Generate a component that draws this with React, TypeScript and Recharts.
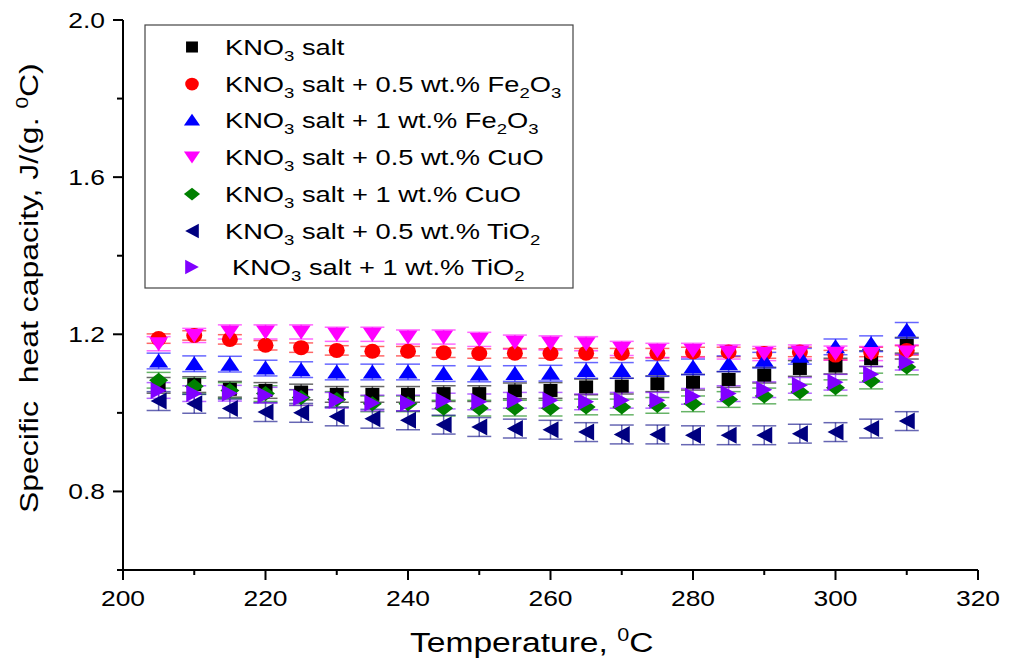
import React from 'react';
import { ScatterChart, Scatter, XAxis, YAxis, ErrorBar } from 'recharts';

// temperatures (°C) where Cp was measured
const temperatures = [205, 210, 215, 220, 225, 230, 235, 240, 245, 250, 255, 260, 265, 270, 275, 280, 285, 290, 295, 300, 305, 310];

// specific heat capacity, J/(g.°C)
const kno3Salt = [1.070, 1.072, 1.060, 1.057, 1.053, 1.047, 1.047, 1.047, 1.049, 1.049, 1.056, 1.057, 1.066, 1.068, 1.074, 1.078, 1.085, 1.096, 1.113, 1.119, 1.138, 1.172];
const fe2o3Half = [1.189, 1.197, 1.187, 1.172, 1.166, 1.159, 1.157, 1.157, 1.153, 1.151, 1.152, 1.151, 1.152, 1.152, 1.152, 1.155, 1.155, 1.151, 1.155, 1.147, 1.155, 1.159];
const fe2o3One = [1.132, 1.125, 1.124, 1.114, 1.110, 1.104, 1.104, 1.104, 1.100, 1.099, 1.100, 1.101, 1.108, 1.108, 1.113, 1.117, 1.125, 1.134, 1.144, 1.168, 1.176, 1.210];
const cuoHalf = [1.176, 1.197, 1.206, 1.206, 1.206, 1.200, 1.200, 1.193, 1.193, 1.187, 1.180, 1.178, 1.176, 1.164, 1.159, 1.159, 1.155, 1.151, 1.155, 1.152, 1.151, 1.155];
const cuoOne = [1.083, 1.068, 1.057, 1.049, 1.039, 1.034, 1.023, 1.023, 1.012, 1.012, 1.012, 1.012, 1.015, 1.015, 1.019, 1.023, 1.034, 1.043, 1.053, 1.064, 1.081, 1.117];
const tio2Half = [1.030, 1.023, 1.011, 1.002, 1.000, 0.991, 0.985, 0.981, 0.970, 0.964, 0.960, 0.957, 0.951, 0.945, 0.945, 0.943, 0.943, 0.943, 0.947, 0.951, 0.960, 0.979];
const tio2One = [1.057, 1.049, 1.050, 1.045, 1.039, 1.032, 1.025, 1.025, 1.030, 1.028, 1.032, 1.032, 1.028, 1.032, 1.032, 1.042, 1.049, 1.059, 1.070, 1.078, 1.098, 1.129];

// error bar half-widths per series
const errorSizes = [0.02, 0.012, 0.02, 0.018, 0.02, 0.024, 0.02];

const seriesNames = [
  'KNO3 salt',
  'KNO3 salt + 0.5 wt.% Fe2O3',
  'KNO3 salt + 1 wt.% Fe2O3',
  'KNO3 salt + 0.5 wt.% CuO',
  'KNO3 salt + 1 wt.% CuO',
  'KNO3 salt + 0.5 wt.% TiO2',
  'KNO3 salt + 1 wt.% TiO2',
];
const seriesValues = [kno3Salt, fe2o3Half, fe2o3One, cuoHalf, cuoOne, tio2Half, tio2One];

const xTicks = [200, 210, 220, 230, 240, 250, 260, 270, 280, 290, 300, 310, 320];
const xLabels = [200, 220, 240, 260, 280, 300, 320];
const yTicks = [0.6, 0.8, 1.0, 1.2, 1.4, 1.6, 1.8, 2.0];
const yLabels = [0.8, 1.2, 1.6, 2.0];

type Kind = 'square' | 'circle' | 'up' | 'down' | 'diamond' | 'left' | 'right';
const kinds: Kind[] = ['square', 'circle', 'up', 'down', 'diamond', 'left', 'right'];
const colors = ['#000000', '#ff0000', '#0000ff', '#ff00ff', '#008000', '#000080', '#8000ff'];

const FONT = '"Liberation Sans", Arial, sans-serif';
const SX = 1.2; // the figure's lettering is wide

function Marker({ cx, cy, kind, color, k = 1 }: { cx: number; cy: number; kind: Kind; color: string; k?: number }) {
  const p = (pts: number[][]) => pts.map(([a, b]) => `${cx + a * k},${cy + b * k}`).join(' ');
  switch (kind) {
    case 'square':
      return <rect x={cx - 7 * k} y={cy - 6.5 * k} width={14 * k} height={13 * k} fill={color} />;
    case 'circle':
      return <ellipse cx={cx} cy={cy} rx={8 * k} ry={7.5 * k} fill={color} />;
    case 'up':
      return <polygon points={p([[0, -7.5], [9.5, 6.5], [-9.5, 6.5]])} fill={color} />;
    case 'down':
      return <polygon points={p([[-9.5, -6.5], [9.5, -6.5], [0, 7.5]])} fill={color} />;
    case 'diamond':
      return <polygon points={p([[0, -7.5], [9.5, 0], [0, 7.5], [-9.5, 0]])} fill={color} />;
    case 'left':
      return <polygon points={p([[-8, 0], [8, -8.5], [8, 8.5]])} fill={color} />;
    default:
      return <polygon points={p([[8, 0], [-8, -8.5], [-8, 8.5]])} fill={color} />;
  }
}

// subscript any digit that directly follows a letter (KNO3, Fe2O3, TiO2)
function Formula({ text, size }: { text: string; size: number }) {
  const parts = text.split(/(?<=[A-Za-z])(\d)/);
  const out: React.ReactNode[] = [];
  let low = false;
  parts.forEach((s, i) => {
    if (!s) return;
    const sub = i % 2 === 1;
    const dy = sub && !low ? 6 : !sub && low ? -6 : 0;
    low = sub;
    out.push(
      <tspan key={i} dy={dy} fontSize={sub ? size * 0.68 : size}>
        {s}
      </tspan>
    );
  });
  return <>{out}</>;
}

const isIn = (v: number, list: number[]) => list.some((m) => Math.abs(m - v) < 1e-6);

const XTick = (props: any) => {
  const { x, y, payload } = props;
  const major = isIn(payload.value, xLabels);
  return (
    <g>
      <line x1={x} y1={y} x2={x} y2={y + (major ? 10 : 5)} stroke="#000" strokeWidth={2} />
      {major && (
        <text transform={`translate(${x},${y + 36}) scale(${SX},1)`} textAnchor="middle" fontSize={22} fontFamily={FONT} fill="#000">
          {payload.value}
        </text>
      )}
    </g>
  );
};

const YTick = (props: any) => {
  const { x, y, payload } = props;
  const major = isIn(payload.value, yLabels);
  return (
    <g>
      <line x1={x} y1={y} x2={x - (major ? 10 : 6)} y2={y} stroke="#000" strokeWidth={2} />
      {major && (
        <text transform={`translate(${x - 18},${y + 8}) scale(${SX},1)`} textAnchor="end" fontSize={22} fontFamily={FONT} fill="#000">
          {payload.value.toFixed(1)}
        </text>
      )}
    </g>
  );
};

function Overlay() {
  const rowY = [47, 84, 120, 157, 194, 231, 267];
  return (
    <svg width={1013} height={664} style={{ position: 'absolute', left: 0, top: 0, pointerEvents: 'none' }}>
      {/* axis titles */}
      <text transform={`translate(38,513) rotate(-90) scale(1.23,1)`} fontSize={26} fontFamily={FONT} fill="#000" style={{ whiteSpace: 'pre' }}>
        {'Specific  heat capacity, J/(g. '}
        <tspan dy={-10} fontSize={17}>0</tspan>
        <tspan dy={10}>C)</tspan>
      </text>
      <text transform={`translate(410,652) scale(${SX},1)`} fontSize={28} fontFamily={FONT} fill="#000" style={{ whiteSpace: 'pre' }}>
        {'Temperature, '}
        <tspan dy={-11} fontSize={18}>0</tspan>
        <tspan dy={11}>C</tspan>
      </text>

      {/* legend */}
      <rect x={145} y={25} width={428} height={263} fill="#fff" stroke="#444" strokeWidth={1.2} />
      {seriesNames.map((name, i) => (
        <g key={name}>
          <Marker cx={192} cy={rowY[i]} kind={kinds[i]} color={colors[i]} k={0.85} />
          <text
            transform={`translate(${i === 6 ? 232 : 225},${rowY[i] + 8}) scale(1.24,1)`}
            fontSize={22}
            fontFamily={FONT}
            fill="#000"
            style={{ whiteSpace: 'pre' }}
          >
            <Formula text={name} size={22} />
          </text>
        </g>
      ))}
    </svg>
  );
}

export default function App() {
  return (
    <div style={{ position: 'absolute', left: 0, top: 0, width: 1013, height: 664, background: '#fff' }}>
      <ScatterChart width={1013} height={664} margin={{ top: 20, right: 35, bottom: 0, left: 0 }}>
        <XAxis
          type="number"
          dataKey="x"
          domain={[200, 320]}
          ticks={xTicks}
          interval={0}
          height={94}
          tickSize={0}
          tickMargin={0}
          tickLine={false}
          axisLine={{ stroke: '#000', strokeWidth: 2 }}
          tick={<XTick />}
        />
        <YAxis
          type="number"
          dataKey="y"
          domain={[0.6, 2.0]}
          ticks={yTicks}
          interval={0}
          width={123}
          tickSize={0}
          tickMargin={0}
          tickLine={false}
          axisLine={{ stroke: '#000', strokeWidth: 2 }}
          tick={<YTick />}
        />
        {seriesValues.map((vals, s) => (
          <Scatter
            key={seriesNames[s]}
            name={seriesNames[s]}
            data={temperatures.map((t, i) => ({ x: t, y: vals[i], err: errorSizes[s] }))}
            isAnimationActive={false}
            shape={(p: any) => <Marker cx={p.cx} cy={p.cy} kind={kinds[s]} color={colors[s]} />}
          >
            <ErrorBar dataKey="err" direction="y" width={12} stroke={colors[s]} strokeOpacity={0.6} strokeWidth={1.5} />
          </Scatter>
        ))}
      </ScatterChart>
      <Overlay />
    </div>
  );
}
